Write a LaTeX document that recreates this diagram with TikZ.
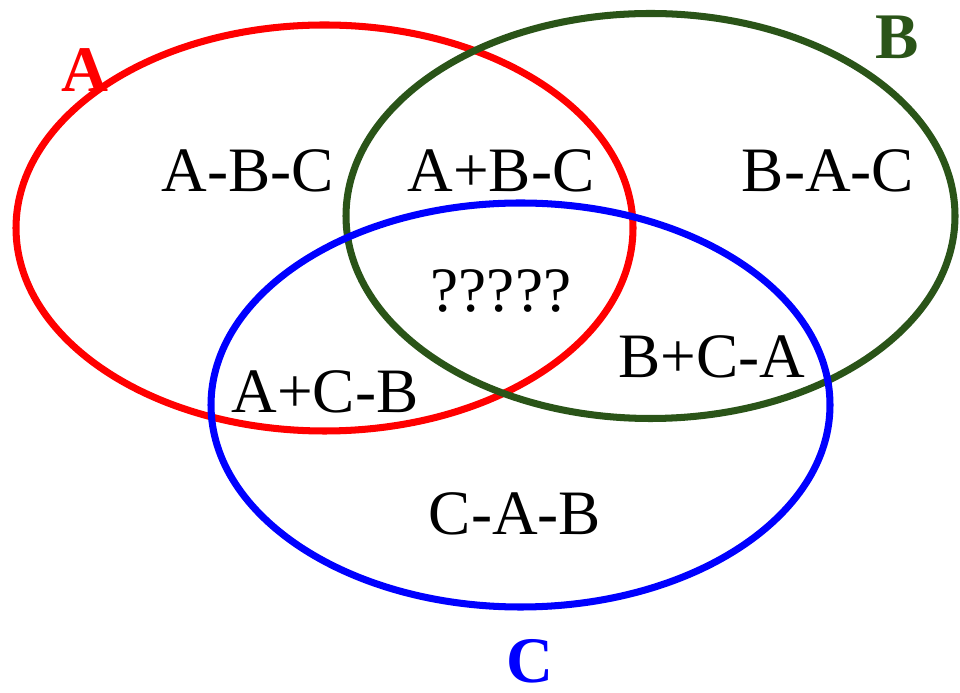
\documentclass[tikz,border=0pt]{standalone}
\usepackage{fontspec}
\setmainfont{Liberation Serif}
\usetikzlibrary{positioning}
\definecolor{setgreen}{RGB}{42,84,24}
\tikzset{
  setline/.style={line width=4pt, draw=#1},
  region/.style={anchor=base, inner sep=0pt, font=\fontsize{36}{40}\selectfont},
  setname/.style={anchor=base, inner sep=0pt, text=#1, font=\fontsize{37}{40}\selectfont\bfseries},
}

\begin{document}
\begin{tikzpicture}
\useasboundingbox (0,0) rectangle (19.2,13.86);

% Sets
\draw[setline=red] (6.49,9.30) ellipse (6.17 and 4.06);
\draw[setline=setgreen] (13.01,9.54) ellipse (6.09 and 4.05);
\draw[setline=blue] (10.41,5.76) ellipse (6.19 and 4.04);

% Set names
\node[setname=red] (nameA) at (1.70,12.02) {A};
\node[setname=setgreen] (nameB) at (17.94,12.68) {B};
\node[setname=blue] (nameC) at (10.60,0.20) {C};

% Regions
\node[region] (onlyA) at (4.96,10.02) {A-B-C};
\node[region] (AB) at (10.02,10.02) {A+B-C};
\node[region] (onlyB) at (16.56,10.02) {B-A-C};
\node[region] (ABC) at (10.02,7.62) {?????};
\node[region] (BC) at (14.24,6.30) {B+C-A};
\node[region] (AC) at (6.50,5.60) {A+C-B};
\node[region] (onlyC) at (10.30,3.16) {C-A-B};

\end{tikzpicture}
\end{document}
